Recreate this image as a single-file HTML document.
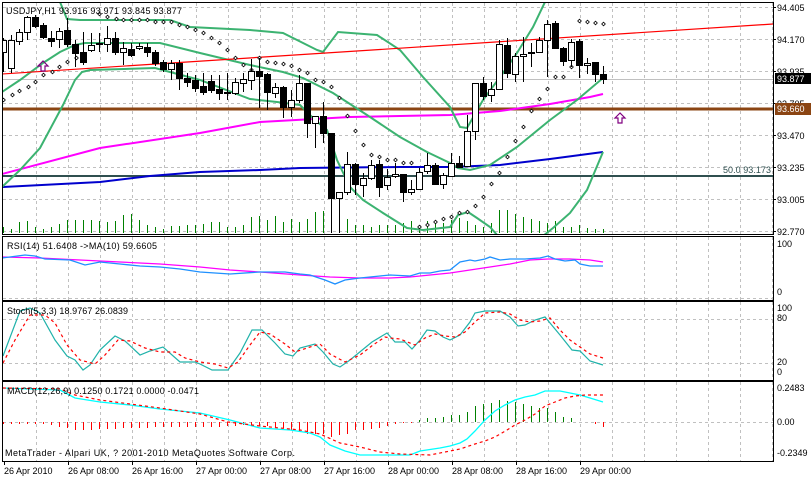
<!DOCTYPE html>
<html><head><meta charset="utf-8"><style>
html,body{margin:0;padding:0;background:#fff}
svg{display:block}
text{font-family:"Liberation Sans",sans-serif;font-size:9px;fill:#000}
</style></head><body>
<svg id="s" width="811" height="477" viewBox="0 0 811 477" xmlns="http://www.w3.org/2000/svg" shape-rendering="crispEdges">
<defs><clipPath id="cm"><rect x="3" y="3" width="770" height="231"/></clipPath>
<clipPath id="cr"><rect x="3" y="237" width="770" height="63"/></clipPath>
<clipPath id="cs"><rect x="3" y="302" width="770" height="78"/></clipPath>
<clipPath id="cd"><rect x="3" y="382" width="770" height="79"/></clipPath></defs>
<g id="grid" stroke="#c0c0c0" stroke-dasharray="3,3" stroke-width="1"></g>
<!-- panels -->
<g fill="none" stroke="#000" stroke-width="1">
<rect x="2.5" y="2.5" width="771" height="232"/>
<rect x="2.5" y="236.5" width="771" height="64"/>
<rect x="2.5" y="301.5" width="771" height="79"/>
<rect x="2.5" y="381.5" width="771" height="80"/>
</g>
<g clip-path="url(#cm)" id="main">
<line x1="3" y1="79.5" x2="773" y2="79.5" stroke="#c0c0c0"/>
<line x1="3" y1="109" x2="773" y2="109" stroke="#8b4513" stroke-width="3"/>
<line x1="3" y1="176" x2="773" y2="176" stroke="#2f4f4f" stroke-width="2"/>
<g id="vol" stroke="#008000"></g>
<polyline shape-rendering="auto" fill="none" stroke="#ff00ff" stroke-width="2" points="2,174 100,148 200,133 260,122 350,117 450,115 500,111 550,104 590,97 603,94"/>
<polyline shape-rendering="auto" fill="none" stroke="#0000cd" stroke-width="2" points="2,187 100,182 150,176 200,172 260,170 300,168 400,167 450,167 500,165 550,159 603,152"/>
<polyline shape-rendering="auto" fill="none" stroke="#3cb371" stroke-width="2" points="60,2 67,19 80,20 170,20 190,27 250,30 283,33 317,50 323,52 338,32 377,35 400,50 423,77 450,107 460,127 467,128 483,100 503,73 517,53 533,27 545,2"/>
<polyline shape-rendering="auto" fill="none" stroke="#3cb371" stroke-width="2" points="2,92 20,80 43,63 60,52 75,45 85,43 160,43 200,53 250,65 283,72 303,78 333,93 367,115 400,137 427,152 450,163 458,168 470,170 490,165 517,147 550,120 577,100 603,78"/>
<polyline shape-rendering="auto" fill="none" stroke="#3cb371" stroke-width="2" points="2,187 20,170 40,148 63,105 75,80 82,72 90,70 155,68 200,80 250,99 277,102 300,105 315,120 327,130 337,160 350,187 363,200 383,213 407,228 423,230 450,227 458,215 468,212 477,218 490,227 498,236 543,236 553,228 570,213 587,190 603,152"/>
<line shape-rendering="auto" x1="2" y1="74" x2="773" y2="24" stroke="#ff0000" stroke-width="1.2"/>
<g id="sar" fill="#fff" stroke="#000" stroke-width="0.8" shape-rendering="auto"></g>
<g id="cdl"></g>
<path shape-rendering="auto" d="M43,61 l-5,5 h3 v5 h4 v-5 h3 z" fill="none" stroke="#800080" stroke-width="1.2"/>
<path shape-rendering="auto" d="M620,113 l-5,5 h3 v5 h4 v-5 h3 z" fill="none" stroke="#800080" stroke-width="1.2"/>
<text x="723" y="173" fill="#2f4f4f" style="fill:#2f4f4f" textLength="48">50.0 93.173</text>
</g>
<text x="6" y="14" textLength="176">USDJPY,H1 93.916 93.971 93.845 93.877</text>
<!-- price axis -->
<g id="ax"></g>
<rect x="775" y="73" width="36" height="11" fill="#000"/>
<text x="777" y="82" style="fill:#fff">93.877</text>
<rect x="775" y="103" width="36" height="12" fill="#8b4513"/>
<text x="777" y="112" style="fill:#fff">93.660</text>
<!-- RSI -->
<g clip-path="url(#cr)" shape-rendering="auto">
<polyline fill="none" stroke="#ff00ff" stroke-width="1.3" points="2,257 40,258 80,260 120,262 160,264 200,267 230,270 260,272 300,275 330,277 360,278 390,278 410,277 430,275 450,273 470,270 490,267 510,264 530,260 548,259 570,259 590,260 603,262"/>
<polyline fill="none" stroke="#1e90ff" stroke-width="1.3" points="2,258 25,255 35,256 45,259 70,260 85,265 100,262 120,264 140,266 160,267 180,269 200,272 230,274 260,272 285,272 300,274 310,275 325,280 335,284 345,280 360,278 380,276 390,275 410,276 420,273 430,273 440,271 450,270 460,262 470,260 475,261 485,259 490,257 500,260 510,259 525,259 540,258 548,256 555,259 565,261 575,260 580,264 590,266 603,266"/>
</g>
<text x="7" y="249" textLength="150">RSI(14) 51.6408 -&gt;MA(10) 59.6605</text>
<!-- Stoch -->
<g clip-path="url(#cs)" shape-rendering="auto">
<polyline fill="none" stroke="#20b2aa" stroke-width="1.2" points="3,356 20,311 30,308 40,313 55,340 67,356 75,360 83,370 90,365 100,350 115,336 125,341 140,355 150,351 163,347 180,362 195,362 200,364 212,370 228,370 240,353 252,330 262,330 275,343 285,354 293,356 300,348 315,344 323,352 333,364 340,367 350,360 372,342 387,333 395,342 405,342 412,349 420,340 427,330 435,331 443,337 450,340 460,335 470,322 475,313 485,311 500,311 510,317 518,326 525,325 535,320 545,317 560,335 572,350 580,351 590,361 603,365"/>
<polyline fill="none" stroke="#ff0000" stroke-width="1.2" stroke-dasharray="3,3" points="3,363 15,340 30,315 45,315 55,323 67,345 80,360 95,364 105,355 118,340 130,341 145,348 160,352 175,352 185,358 200,362 215,364 228,368 238,362 250,345 260,332 270,334 285,344 295,352 310,347 320,344 330,354 345,362 360,355 373,345 385,337 390,338 400,339 415,345 425,338 435,334 445,336 455,337 465,332 475,322 485,313 500,312 510,314 520,320 530,322 540,321 550,318 560,330 570,340 580,347 590,354 603,358"/>
</g>
<text x="7" y="314" textLength="121">Stoch(5,3,3) 18.9767 26.0839</text>
<!-- MACD -->
<g clip-path="url(#cd)">
<g id="hist"></g>
<polyline shape-rendering="auto" fill="none" stroke="#00ffff" stroke-width="1.3" points="3,388 30,389 60,390 75,398 100,402 130,405 160,409 200,413 230,420 260,428 275,429 290,430 310,433 320,437 330,445 345,451 360,455 380,455 410,455 420,451 440,448 450,446 460,443 467,439 475,431 485,420 495,411 505,405 515,400 525,397 535,395 545,391 560,391 570,393 580,395 590,398 603,402"/>
<polyline shape-rendering="auto" fill="none" stroke="#ff0000" stroke-width="1.2" stroke-dasharray="3,3" points="3,388 60,389 75,395 100,400 130,404 160,408 200,414 228,422 260,426 300,430 320,434 340,443 360,447 380,452 400,454 430,455 445,452 460,449 475,444 485,441 495,437 507,430 515,425 525,420 535,414 545,406 555,402 565,398 575,396 585,395 603,395"/>
</g>
<text x="7" y="394" textLength="192">MACD(12,26,9) 0.1250 0.1721 0.0000 -0.0471</text>
<text x="5" y="456" textLength="290">MetaTrader - Alpari UK, ? 2001-2010 MetaQuotes Software Corp.</text>
<g id="right"></g>
<g id="time"></g>
</svg>
<script>
var NS="http://www.w3.org/2000/svg";
function el(p,t,a,txt){var e=document.createElementNS(NS,t);for(var k in a)e.setAttribute(k,a[k]);if(txt!=null)e.textContent=txt;document.getElementById(p).appendChild(e);return e;}
// grid
for(var x=36;x<773;x+=32){el("grid","line",{x1:x+.5,y1:3,x2:x+.5,y2:234});el("grid","line",{x1:x+.5,y1:237,x2:x+.5,y2:300});el("grid","line",{x1:x+.5,y1:302,x2:x+.5,y2:380});el("grid","line",{x1:x+.5,y1:382,x2:x+.5,y2:461});}
[7,39,71,103,135,167,199,231].forEach(function(y){el("grid","line",{x1:3,y1:y+.5,x2:773,y2:y+.5});});
[298,319,363,422].forEach(function(y){el("grid","line",{x1:3,y1:y+.5,x2:773,y2:y+.5});});
// price axis
var pl=[["94.405",7],["94.170",39],["93.935",71],["93.705",103],["93.470",135],["93.235",167],["93.005",199],["92.770",231]];
pl.forEach(function(p){el("ax","line",{x1:773,y1:p[1]+.5,x2:776,y2:p[1]+.5,stroke:"#000"});el("ax","text",{x:777,y:p[1]+4},p[0]);});
[["100",247],["0",295],["100",311],["80",321],["20",365],["0",375],["0.2483",391],["0.00",425],["-0.2349",456]].forEach(function(p){el("right","text",{x:777,y:p[1]},p[0]);});
// time
var tl=["26 Apr 2010","26 Apr 08:00","26 Apr 16:00","27 Apr 00:00","27 Apr 08:00","27 Apr 16:00","28 Apr 00:00","28 Apr 08:00","28 Apr 16:00","29 Apr 00:00"];
tl.forEach(function(t,i){var x=4+64*i;el("time","line",{x1:x+.5,y1:461,x2:x+.5,y2:465,stroke:"#000"});el("time","text",{x:x,y:474},t);});
// candles
var C=[[40,52,38,72,0],[40,68,35,73,0],[32,41,29,45,0],[17,32,16,40,0],[17,26,15,28,1],[25,37,23,39,1],[38,41,31,47,1],[31,39,28,48,0],[30,44,18,47,1],[44,53,40,67,1],[52,62,32,65,1],[45,50,33,52,0],[43,44,33,52,0],[38,44,26,52,0],[38,52,32,55,1],[48,52,42,65,0],[49,55,43,57,1],[46,48,43,50,0],[47,52,43,57,1],[52,63,50,66,1],[62,69,60,72,1],[63,69,60,80,0],[63,78,60,90,1],[78,82,73,87,1],[80,88,75,92,1],[86,92,73,95,1],[81,90,75,93,1],[89,93,75,100,1],[92,93,73,100,0],[82,93,78,95,0],[79,83,73,92,0],[71,80,59,90,0],[71,76,58,108,1],[74,92,73,110,1],[87,93,83,98,0],[87,107,86,118,1],[100,107,90,117,0],[83,100,75,103,0],[83,123,83,138,1],[116,123,116,148,0],[116,133,102,143,1],[133,198,133,233,1],[192,198,192,233,0],[164,192,152,195,0],[164,184,163,195,1],[178,185,173,197,0],[165,178,160,180,0],[164,187,160,197,1],[177,185,169,190,0],[174,176,163,178,0],[174,192,174,202,1],[189,192,180,195,0],[172,189,168,190,0],[165,171,153,174,0],[165,184,163,185,1],[175,184,173,189,0],[163,176,153,177,0],[163,167,156,168,1],[131,166,115,166,0],[83,131,83,140,0],[83,96,77,100,1],[89,95,82,102,0],[44,89,40,90,0],[45,73,38,78,1],[56,74,53,82,0],[54,56,37,82,0],[52,53,43,67,1],[40,52,37,53,0],[24,40,20,77,0],[23,48,21,49,1],[48,61,47,66,1],[42,60,39,67,0],[41,65,39,78,1],[63,65,58,74,0],[62,74,62,82,1],[74,79,66,84,1]];
var V=[6,4,11,12,6,4,6,9,13,13,13,13,12,11,12,18,19,13,8,6,4,7,7,8,8,9,11,11,6,6,8,16,17,13,17,11,14,11,14,21,22,29,5,14,8,8,6,8,8,8,10,12,8,12,10,10,13,15,12,8,6,10,23,23,19,16,14,12,10,12,6,6,8,5,4,4];
C.forEach(function(c,i){var x=3+8*i;
 el("vol","line",{x1:x+.5,y1:233,x2:x+.5,y2:233-V[i]});
 el("cdl","line",{x1:x+.5,y1:c[2],x2:x+.5,y2:c[3],stroke:"#000"});
 var h=Math.max(1,c[1]-c[0]);
 el("cdl","rect",{x:x-2.5,y:c[0]+.5,width:6,height:h,fill:c[4]?"#000":"#fff",stroke:"#000"});
});
// SAR
var S=[[3,100],[12,95],[19,91],[28,87],[35,82],[43,75],[52,72],[59,67],[67,62],[76,58],[99,14],[107,17],[116,19],[123,20],[131,20],[139,20],[147,20],[155,22],[163,22],[171,22],[179,25],[187,27],[195,30],[203,33],[211,38],[219,43],[227,50],[235,58],[243,65],[251,70],[259,58],[267,62],[275,63],[283,64],[291,66],[299,70],[307,73],[315,80],[323,82],[331,87],[339,98],[347,116],[355,131],[363,145],[371,155],[379,157],[387,160],[395,160],[403,163],[411,163],[419,227],[427,225],[435,222],[443,219],[451,217],[459,213],[467,212],[475,206],[483,197],[491,184],[499,173],[507,157],[515,141],[523,127],[531,111],[539,99],[547,89],[555,77],[563,77],[571,67],[579,21],[587,22],[595,23],[603,24]];
S.forEach(function(p){el("sar","path",{d:"M"+(p[0]+.5)+","+(p[1]-1.8)+"l1.8,1.8l-1.8,1.8l-1.8,-1.8z"});});
// MACD histogram
var H=[-2,-2,-2,-2,-2,-2,-3,-5,-6,-8,-8,-8,-7,-7,-7,-6,-6,-6,-6,-5,-5,-5,-5,-5,-5,-5,-5,-5,-4,-4,-3,-4,-4,-4,-5,-6,-8,-10,-12,-12,-12,-15,-13,-12,-8,-8,-7,-6,-4,-2,-1,-1,2,4,4,5,7,7,10,16,18,19,22,21,20,18,16,14,14,10,5,4,0,0,-2,-5,-7];
H=H.slice(0,76);
H.forEach(function(h,i){var x=3+8*i+.5;if(!h)return;el("hist","line",{x1:x,y1:422,x2:x,y2:422-h,stroke:h>0?"#008000":"#ff0000"});});
</script>
</body></html>
